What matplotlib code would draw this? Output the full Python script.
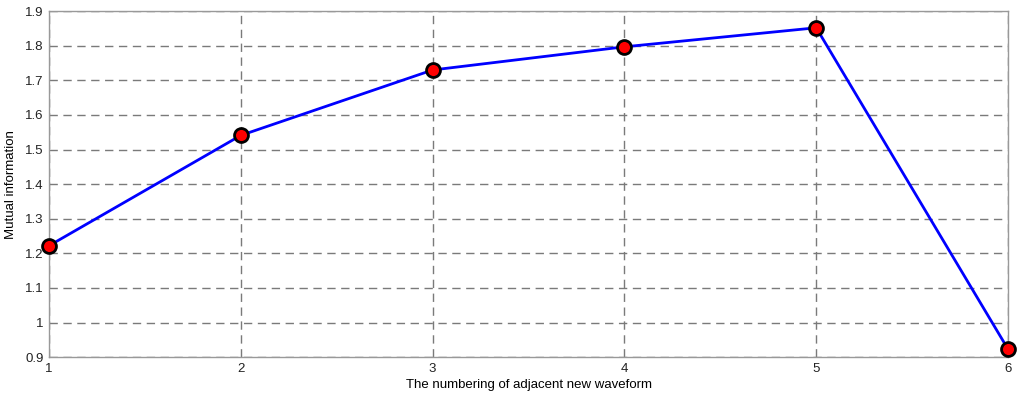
import matplotlib
matplotlib.use('Agg')
import matplotlib.pyplot as plt

# data
x_vals = [1, 2, 3, 4, 5, 6]
mi_vals = [1.222, 1.541, 1.730, 1.797, 1.852, 0.923]
x_ticks = [1, 2, 3, 4, 5, 6]
y_ticks = [0.9, 1.0, 1.1, 1.2, 1.3, 1.4, 1.5, 1.6, 1.7, 1.8, 1.9]
y_labels = ['0.9', '1', '1.1', '1.2', '1.3', '1.4', '1.5', '1.6', '1.7', '1.8', '1.9']

plt.rcParams['font.family'] = ['Liberation Sans', 'DejaVu Sans']

fig = plt.figure(figsize=(10.24, 3.99), dpi=100)
ax = fig.add_axes([0.0479, 0.105, 0.9365, 0.867])

ax.plot(x_vals, mi_vals, color='#0000ff', lw=2, marker='o', ms=10,
        markerfacecolor='#ff0000', markeredgecolor='black', markeredgewidth=2,
        zorder=3, clip_on=False)

ax.set_xlim(1, 6)
ax.set_ylim(0.9, 1.9)
ax.set_xticks(x_ticks)
ax.set_yticks(y_ticks)
ax.set_yticklabels(y_labels)
ax.tick_params(length=0, labelsize=9.5, pad=4, colors='#222222')
ax.grid(True, color='#7a7a7a', linestyle=(0, (6, 4)), linewidth=1)
for s in ax.spines.values():
    s.set_color('#999999')
    s.set_linewidth(1)

ax.set_xlabel('The numbering of adjacent new waveform', fontsize=9.5, labelpad=3)
ax.set_ylabel('Mutual information', fontsize=9.5, labelpad=6)

fig.savefig('out.png', dpi=100)
